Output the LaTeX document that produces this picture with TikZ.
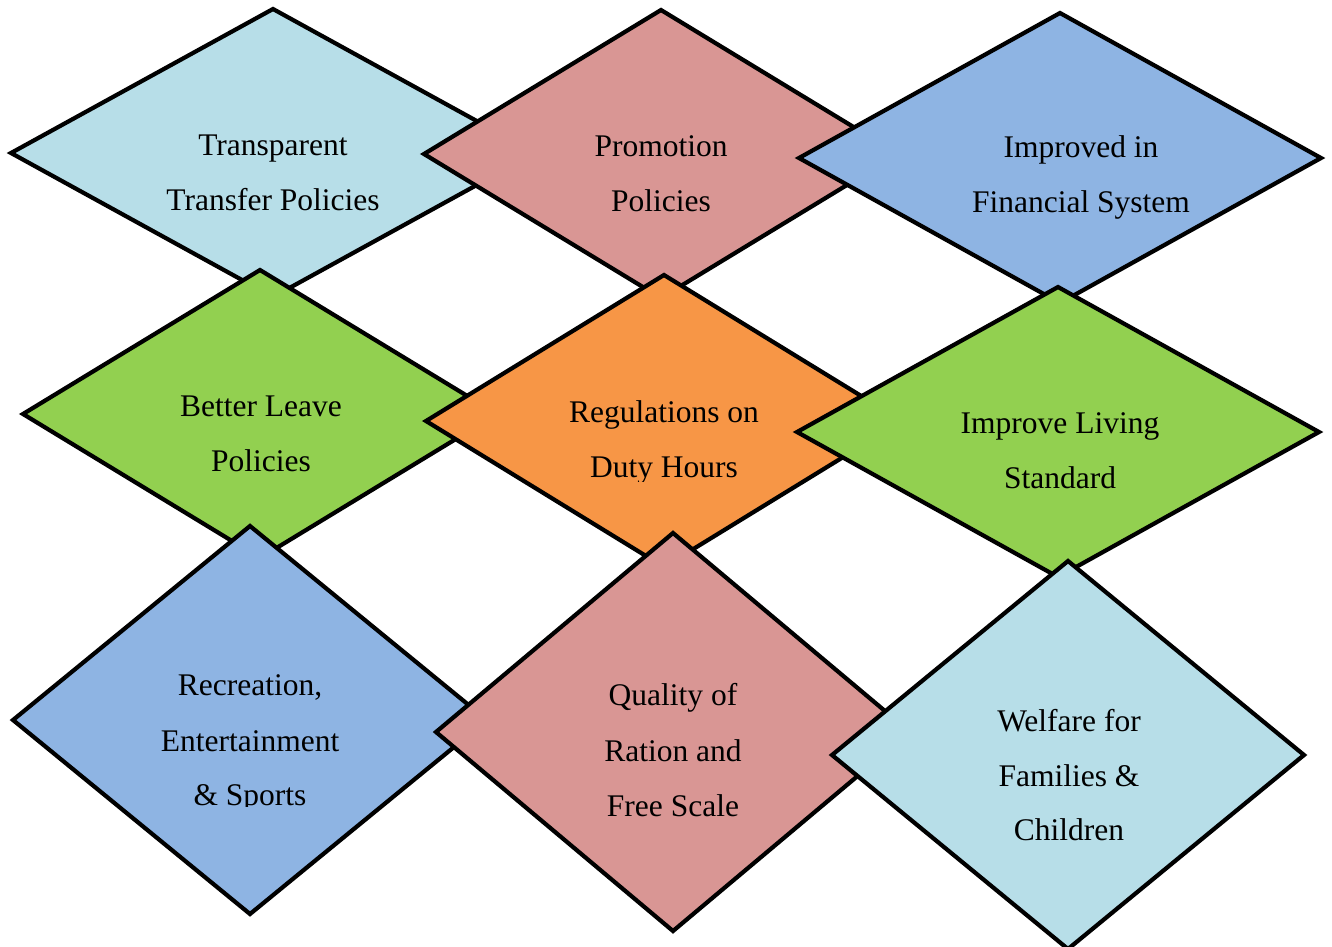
\documentclass[tikz,border=0pt]{standalone}
\usepackage{fontspec}
\setmainfont{Liberation Serif}
\definecolor{cLB}{HTML}{B7DEE8}
\definecolor{cPK}{HTML}{D99694}
\definecolor{cBL}{HTML}{8EB4E3}
\definecolor{cGR}{HTML}{92D050}
\definecolor{cOR}{HTML}{F79646}
% name, cx, cy, half width, half height, colour
\newcommand\mydiamond[6]{%
  \path[dmd, fill=#6] (#2-#4,#3) coordinate (#1L) -- (#2,#3-#5) coordinate (#1T)
    -- (#2+#4,#3) coordinate (#1R) -- (#2,#3+#5) coordinate (#1B) -- cycle;}
\begin{document}
\begin{tikzpicture}[x=1pt,y=-1pt,
  dmd/.style={draw=black, line width=4.2pt, line join=miter},
  lbl/.style={anchor=base, inner sep=0pt, text=black, font=\fontsize{31.5}{38}\selectfont}]
\useasboundingbox[fill=white] (0,0) rectangle (1332,946);
% row 1
\mydiamond{dT}{273}{153}{262}{144}{cLB}
\node[lbl] (t1a) at (273,155) {Transparent};
\node[lbl] (t1b) at (273,210) {Transfer Policies};
\mydiamond{dP}{661}{154}{237}{144}{cPK}
\node[lbl] (t2a) at (661,156) {Promotion};
\node[lbl] (t2b) at (661,211) {Policies};
\mydiamond{dI}{1060}{158}{261}{145}{cBL}
\node[lbl] (t3a) at (1081,157) {Improved in};
\node[lbl] (t3b) at (1081,212) {Financial System};
% row 2
\mydiamond{dB}{260}{414}{237}{144}{cGR}
\node[lbl] (t4a) at (261,416) {Better Leave};
\node[lbl] (t4b) at (261,471) {Policies};
\mydiamond{dR}{664}{421}{238}{146}{cOR}
\node[lbl] (t5a) at (664,422) {Regulations on};
\begin{scope}
  \clip (500,440) rectangle (830,481);
  \node[lbl] (t5b) at (664,477) {Duty Hours};
\end{scope}
\mydiamond{dL}{1058}{432}{261}{145}{cGR}
\node[lbl] (t6a) at (1060,433) {Improve Living};
\node[lbl] (t6b) at (1060,488) {Standard};
% row 3
\mydiamond{dC}{250}{720}{237}{194}{cBL}
\node[lbl] (t7a) at (250,695) {Recreation,};
\node[lbl] (t7b) at (250,751) {Entertainment};
\begin{scope}
  \clip (100,770) rectangle (400,806);
  \node[lbl] (t7c) at (250,805) {\& Sports};
\end{scope}
\mydiamond{dQ}{673}{732}{237}{199}{cPK}
\node[lbl] (t8a) at (673,705) {Quality of};
\node[lbl] (t8b) at (673,761) {Ration and};
\node[lbl] (t8c) at (673,816) {Free Scale};
\mydiamond{dW}{1068}{755}{236}{194}{cLB}
\node[lbl] (t9a) at (1069,731) {Welfare for};
\node[lbl] (t9b) at (1069,786) {Families \&};
\begin{scope}
  \clip (920,800) rectangle (1220,841);
  \node[lbl] (t9c) at (1069,840) {Children};
\end{scope}
\end{tikzpicture}
\end{document}
